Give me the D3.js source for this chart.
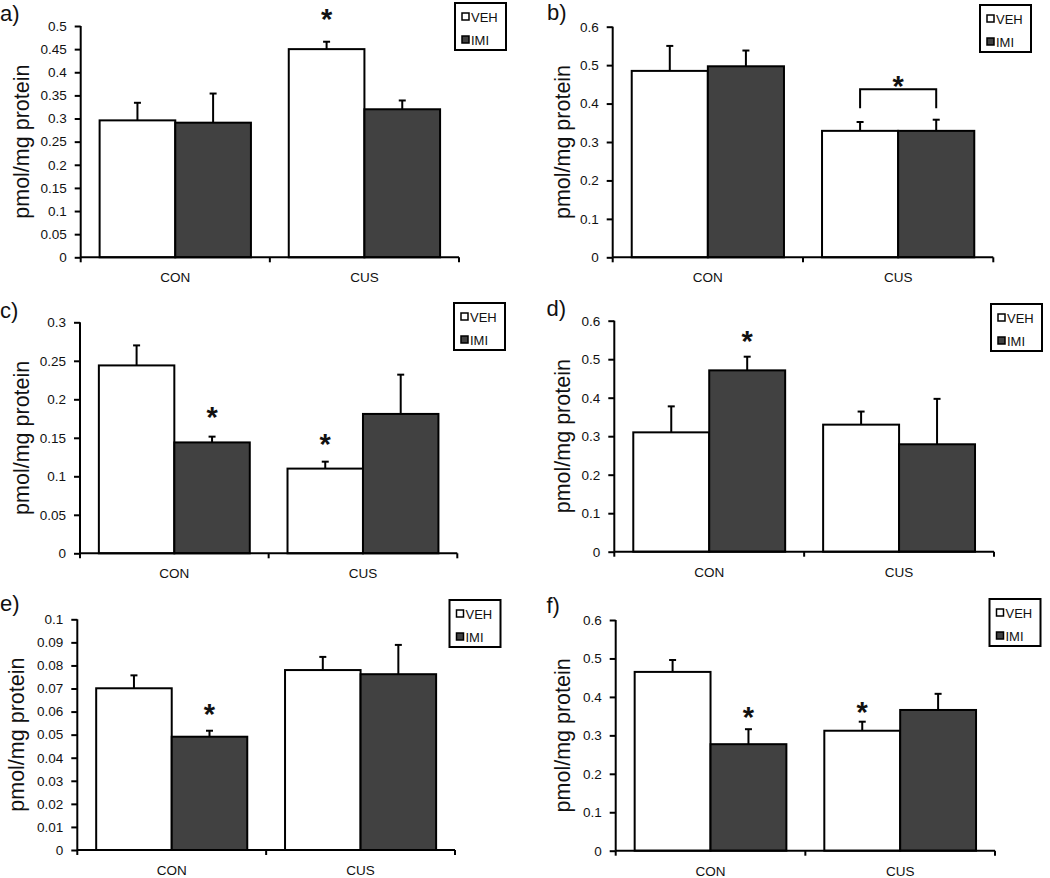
<!DOCTYPE html>
<html>
<head>
<meta charset="utf-8">
<script src="https://cdn.jsdelivr.net/npm/d3@7"></script>
<style>
  html, body { margin: 0; padding: 0; background: #fff; }
  svg { display: block; font-family: "Liberation Sans", Arial, sans-serif; }
</style>
</head>
<body>
<svg id="chart" width="1050" height="878"></svg>
<script>
// ---------------- DATA ----------------
const panelLabels = ["a)", "b)", "c)", "d)", "e)", "f)"];
const categories = ["CON", "CUS"];
const seriesNames = ["VEH", "IMI"];
const yLabel = "pmol/mg protein";

// y-axis maxima and tick labels per panel
const yMax = [0.5, 0.6, 0.3, 0.6, 0.1, 0.6];
const yTicksA = ["0", "0.05", "0.1", "0.15", "0.2", "0.25", "0.3", "0.35", "0.4", "0.45", "0.5"];
const yTicksB = ["0", "0.1", "0.2", "0.3", "0.4", "0.5", "0.6"];
const yTicksC = ["0", "0.05", "0.1", "0.15", "0.2", "0.25", "0.3"];
const yTicksD = ["0", "0.1", "0.2", "0.3", "0.4", "0.5", "0.6"];
const yTicksE = ["0", "0.01", "0.02", "0.03", "0.04", "0.05", "0.06", "0.07", "0.08", "0.09", "0.1"];
const yTicksF = ["0", "0.1", "0.2", "0.3", "0.4", "0.5", "0.6"];
const yTicks = [yTicksA, yTicksB, yTicksC, yTicksD, yTicksE, yTicksF];

// means per panel: [CON, CUS]
const vehMean = [[0.296, 0.450], [0.485, 0.329], [0.244, 0.110], [0.310, 0.330], [0.0701, 0.0780], [0.465, 0.312]];
const imiMean = [[0.291, 0.320], [0.497, 0.329], [0.144, 0.181], [0.471, 0.279], [0.0491, 0.0762], [0.277, 0.366]];
// SEM per panel: [CON, CUS]
const vehErr = [[0.038, 0.016], [0.065, 0.023], [0.026, 0.009], [0.0675, 0.034], [0.0056, 0.0057], [0.031, 0.0235]];
const imiErr = [[0.063, 0.019], [0.041, 0.029], [0.0075, 0.051], [0.0355, 0.118], [0.0026, 0.0127], [0.039, 0.042]];

// significance stars: panel index, category, series, value at the star centre
const stars = [
  { p: 0, cat: "CUS", s: "VEH", v: 0.531 },
  { p: 1, cat: "CUS", s: null, v: 0.466 },
  { p: 2, cat: "CON", s: "IMI", v: 0.186 },
  { p: 2, cat: "CUS", s: "VEH", v: 0.1515 },
  { p: 3, cat: "CON", s: "IMI", v: 0.567 },
  { p: 4, cat: "CON", s: "IMI", v: 0.0621 },
  { p: 5, cat: "CON", s: "IMI", v: 0.366 },
  { p: 5, cat: "CUS", s: "VEH", v: 0.379 }
];
// bracket (panel b): panel, category, top value, end value
const brackets = [{ p: 1, cat: "CUS", top: 0.437, end: 0.388 }];

// ---------------- LAYOUT ----------------
// plot rectangles [left, top, right, bottom]
const plotRects = [
  [80.7, 26, 459, 257.3],
  [612.7, 26.7, 993.3, 257.3],
  [80, 322.3, 457.3, 553.3],
  [614.3, 320.7, 994, 551.7],
  [77.3, 619.3, 455, 850],
  [615.7, 620, 995, 850.7]
];
const legendPos = [[455, 3], [980, 5], [454, 303], [991, 304], [449.5, 600], [989.5, 599]];
const panelLabelPos = [[0, 21], [547, 20], [0, 318], [546.5, 316], [0, 611], [546.5, 613]];
const yLabelX = [29, 569.5, 29, 569.5, 23.5, 569.5];

const IMI_FILL = "#414141";
const colors = { VEH: "#ffffff", IMI: IMI_FILL };

const svg = d3.select("#chart");

panelLabels.forEach((lab, i) => {
  const [L, T, R, B] = plotRects[i];
  const g = svg.append("g");

  const x0 = d3.scaleBand().domain(categories).range([L, R]).paddingInner(0.2).paddingOuter(0.1);
  const x1 = d3.scaleBand().domain(seriesNames).range([0, x0.bandwidth()]).padding(0);
  const y = d3.scaleLinear().domain([0, yMax[i]]).range([B, T]);

  const rows = [];
  categories.forEach((c, ci) => {
    rows.push({ cat: c, s: "VEH", v: vehMean[i][ci], e: vehErr[i][ci] });
    rows.push({ cat: c, s: "IMI", v: imiMean[i][ci], e: imiErr[i][ci] });
  });

  // error bars (drawn first so bar outline sits on top)
  const eb = g.append("g").attr("stroke", "#000").attr("stroke-width", 2);
  rows.forEach(d => {
    const cx = x0(d.cat) + x1(d.s) + x1.bandwidth() / 2;
    eb.append("line").attr("x1", cx).attr("x2", cx).attr("y1", y(d.v)).attr("y2", y(d.v + d.e));
    eb.append("line").attr("x1", cx - 3.5).attr("x2", cx + 3.5).attr("y1", y(d.v + d.e)).attr("y2", y(d.v + d.e));
  });

  // bars
  g.append("g").selectAll("rect").data(rows).join("rect")
    .attr("x", d => x0(d.cat) + x1(d.s))
    .attr("y", d => y(d.v))
    .attr("width", x1.bandwidth())
    .attr("height", d => y(0) - y(d.v))
    .attr("fill", d => colors[d.s])
    .attr("stroke", "#000")
    .attr("stroke-width", 2);

  // y axis
  const tickVals = yTicks[i].map(Number);
  const yAxis = d3.axisLeft(y).tickValues(tickVals).tickFormat((d, k) => yTicks[i][k]).tickSize(6).tickPadding(8);
  const ya = g.append("g").attr("transform", `translate(${L},0)`).call(yAxis);
  ya.select(".domain").attr("stroke", "#000").attr("stroke-width", 2).attr("d", `M0,${T}V${B}`);
  ya.selectAll(".tick line").attr("stroke", "#000").attr("stroke-width", 2);
  ya.selectAll(".tick text").attr("font-size", 13.5).attr("fill", "#111")
    .attr("font-family", "Liberation Sans, Arial, sans-serif");

  // x axis
  const xa = g.append("g").attr("transform", `translate(0,${B})`);
  xa.append("line").attr("x1", L).attr("x2", R).attr("stroke", "#000").attr("stroke-width", 2);
  const xTickPos = [L, (L + R) / 2, R];
  xTickPos.forEach(px => {
    xa.append("line").attr("x1", px).attr("x2", px).attr("y1", 0).attr("y2", 5).attr("stroke", "#000").attr("stroke-width", 2);
  });
  categories.forEach(c => {
    xa.append("text").attr("x", x0(c) + x0.bandwidth() / 2).attr("y", 25)
      .attr("text-anchor", "middle").attr("font-size", 13.5).attr("fill", "#111").text(c);
  });

  // y label
  g.append("text")
    .attr("transform", `translate(${yLabelX[i]},${(T + B) / 2}) rotate(-90)`)
    .attr("text-anchor", "middle").attr("font-size", 21.5).attr("fill", "#111")
    .text(yLabel);

  // panel label
  g.append("text").attr("x", panelLabelPos[i][0]).attr("y", panelLabelPos[i][1])
    .attr("font-size", 22).attr("fill", "#111").text(lab);

  // legend
  const [lx, ly] = legendPos[i];
  const lg = g.append("g").attr("transform", `translate(${lx},${ly})`);
  lg.append("rect").attr("x", 0).attr("y", 0).attr("width", 51).attr("height", 47)
    .attr("fill", "#fff").attr("stroke", "#000").attr("stroke-width", 2);
  seriesNames.forEach((s, k) => {
    lg.append("rect").attr("x", 7).attr("y", 10 + k * 23).attr("width", 7).attr("height", 7)
      .attr("fill", colors[s]).attr("stroke", "#000").attr("stroke-width", 1.5);
    lg.append("text").attr("x", 16).attr("y", 18.5 + k * 23).attr("font-size", 13).attr("fill", "#111").text(s);
  });

  // brackets
  brackets.filter(b => b.p === i).forEach(b => {
    const xa1 = x0(b.cat) + x1("VEH") + x1.bandwidth() / 2;
    const xa2 = x0(b.cat) + x1("IMI") + x1.bandwidth() / 2;
    g.append("path")
      .attr("d", `M${xa1},${y(b.end)}V${y(b.top)}H${xa2}V${y(b.end)}`)
      .attr("fill", "none").attr("stroke", "#000").attr("stroke-width", 2);
  });

  // stars
  const fs = 29;
  stars.filter(s => s.p === i).forEach(s => {
    const cx = s.s ? x0(s.cat) + x1(s.s) + x1.bandwidth() / 2 : x0(s.cat) + x0.bandwidth() / 2;
    g.append("text").attr("x", cx).attr("y", y(s.v) + 0.6 * fs)
      .attr("text-anchor", "middle").attr("font-size", fs).attr("font-weight", "bold")
      .attr("fill", "#111").text("*");
  });
});
</script>
</body>
</html>
